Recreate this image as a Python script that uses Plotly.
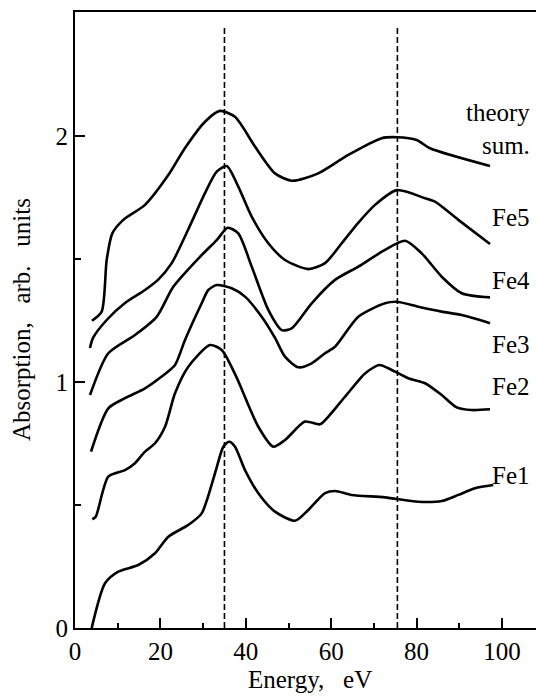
import plotly.graph_objects as go

# ---- data (energy in eV, absorption in arb. units) ----
theory_x = [3.98, 6.25, 7.42, 8.74, 11.31, 16.39, 21.85, 25.76, 30.44, 33.96, 37.47, 42.15, 46.84,
            50.75, 56.98, 64.0, 71.83, 75.34, 80.02, 83.14, 97.19]
theory_y = [1.249, 1.286, 1.496, 1.604, 1.659, 1.720, 1.841, 1.951, 2.058, 2.102, 2.078, 1.957, 1.848,
            1.818, 1.848, 1.923, 1.991, 1.995, 1.984, 1.950, 1.878]

fe5_x = [3.51, 4.22, 7.42, 11.71, 16.39, 19.44, 22.65, 26.46, 30.44, 33.19, 35.53, 38.24, 41.38, 45.27,
         49.18, 54.64, 58.55, 62.46, 66.28, 70.26, 75.34, 81.97, 84.31, 89.77, 97.19]
fe5_y = [1.138, 1.179, 1.252, 1.321, 1.374, 1.415, 1.483, 1.618, 1.768, 1.855, 1.878, 1.794, 1.672, 1.564,
         1.496, 1.459, 1.483, 1.564, 1.646, 1.720, 1.780, 1.747, 1.733, 1.659, 1.561]

fe4_x = [3.51, 7.80, 14.05, 19.13, 23.02, 29.27, 33.19, 35.76, 38.24, 41.38, 45.27, 48.41, 50.75, 55.43,
         60.89, 66.35, 72.60, 77.28, 81.19, 85.88, 90.56, 97.19]
fe4_y = [0.947, 1.117, 1.191, 1.265, 1.387, 1.509, 1.577, 1.627, 1.604, 1.469, 1.293, 1.211, 1.218, 1.320,
         1.415, 1.469, 1.537, 1.574, 1.523, 1.428, 1.361, 1.344]

fe3_x = [3.75, 7.80, 11.71, 16.39, 20.30, 23.42, 25.76, 29.67, 31.22, 33.19, 36.70, 39.81, 43.72, 46.84,
         49.18, 52.30, 55.43, 58.55, 60.89, 66.35, 72.60, 75.34, 80.40, 85.88, 90.56, 97.19]
fe3_y = [0.717, 0.893, 0.934, 0.974, 1.022, 1.069, 1.171, 1.320, 1.374, 1.394, 1.381, 1.347, 1.265, 1.179,
         1.103, 1.060, 1.076, 1.117, 1.143, 1.265, 1.320, 1.326, 1.306, 1.286, 1.272, 1.239]

fe2_x = [4.05, 4.85, 7.80, 11.71, 14.05, 16.39, 18.74, 21.08, 23.42, 26.53, 31.62, 34.36, 37.70, 42.93,
         46.44, 49.18, 53.86, 57.38, 59.33, 63.23, 67.92, 71.26, 73.37, 78.06, 81.97, 85.88, 89.39, 92.90, 97.19]
fe2_y = [0.442, 0.452, 0.615, 0.642, 0.670, 0.717, 0.751, 0.818, 0.954, 1.062, 1.150, 1.130, 1.024, 0.818,
         0.737, 0.764, 0.839, 0.828, 0.859, 0.940, 1.035, 1.069, 1.056, 1.015, 0.995, 0.947, 0.897, 0.886, 0.889]

fe1_x = [3.91, 7.03, 10.14, 14.82, 18.74, 21.85, 26.53, 29.67, 32.79, 34.73, 36.07, 37.47, 39.81, 42.93,
         46.84, 51.52, 54.64, 58.55, 60.89, 64.80, 72.60, 80.40, 85.88, 89.77, 93.68, 97.96]
fe1_y = [0.0, 0.182, 0.229, 0.256, 0.304, 0.371, 0.419, 0.466, 0.629, 0.737, 0.757, 0.737, 0.642, 0.548,
         0.473, 0.436, 0.480, 0.548, 0.557, 0.541, 0.531, 0.513, 0.516, 0.541, 0.568, 0.581]

curve_labels = ["theory<br>sum.", "Fe5", "Fe4", "Fe3", "Fe2", "Fe1"]
label_y = [2.028, 1.667, 1.411, 1.154, 0.980, 0.618]
label_x = 107.0

dashed_x = [35.0, 75.5]
dashed_top = 2.45

x_ticks = [0, 20, 40, 60, 80, 100]
x_minor = [10, 30, 50, 70, 90]
y_ticks = [0, 1, 2]
y_minor = [0.5, 1.5]

FONT = "Liberation Serif"

fig = go.Figure()

series = [(theory_x, theory_y), (fe5_x, fe5_y), (fe4_x, fe4_y),
          (fe3_x, fe3_y), (fe2_x, fe2_y), (fe1_x, fe1_y)]
for xs, ys in series:
    fig.add_trace(go.Scatter(x=xs, y=ys, mode="lines",
                             line=dict(color="black", width=2.6, shape="spline", smoothing=0.7),
                             showlegend=False, hoverinfo="skip"))

for dx in dashed_x:
    fig.add_trace(go.Scatter(x=[dx, dx], y=[0, dashed_top], mode="lines",
                             line=dict(color="black", width=1.6, dash="6px,3px"),
                             showlegend=False, hoverinfo="skip"))

for txt, ly in zip(curve_labels, label_y):
    fig.add_annotation(x=label_x, y=ly, xref="x", yref="y", text=txt, showarrow=False,
                       xanchor="right", yanchor="middle", align="right",
                       font=dict(family=FONT, size=25, color="black"))

fig.add_annotation(x=0.509, y=-0.108, xref="paper", yref="paper",
                   text="Energy,\u00a0\u00a0\u00a0eV", showarrow=False,
                   xanchor="center", yanchor="bottom",
                   font=dict(family=FONT, size=25, color="black"))
fig.add_annotation(x=-0.117, y=0.5, xref="paper", yref="paper",
                   text="Absorption,\u00a0\u00a0\u00a0arb.\u00a0\u00a0\u00a0units", showarrow=False,
                   textangle=-90, xanchor="center", yanchor="middle",
                   font=dict(family=FONT, size=25, color="black"))

fig.update_layout(
    width=536, height=696,
    margin=dict(l=75, r=0, t=12, b=68),
    plot_bgcolor="white", paper_bgcolor="white",
    font=dict(family=FONT, size=25, color="black"),
    showlegend=False,
)

fig.update_xaxes(range=[0, 107.96], showline=True, linecolor="black", linewidth=2, mirror=True,
                 ticks="inside", tickvals=x_ticks, ticklen=10, tickwidth=2, tickcolor="black",
                 minor=dict(tickvals=x_minor, ticks="inside", ticklen=5, tickwidth=1.5,
                            tickcolor="black", showgrid=False),
                 showgrid=False, zeroline=False,
                 tickfont=dict(family=FONT, size=25, color="black"))
fig.update_yaxes(range=[0, 2.504], showline=True, linecolor="black", linewidth=2, mirror=False,
                 ticks="inside", tickvals=y_ticks, ticklen=10, tickwidth=2, tickcolor="black",
                 minor=dict(tickvals=y_minor, ticks="inside", ticklen=6, tickwidth=1.5,
                            tickcolor="black", showgrid=False),
                 showgrid=False, zeroline=False,
                 tickfont=dict(family=FONT, size=25, color="black"))

fig.write_html("out.html")
